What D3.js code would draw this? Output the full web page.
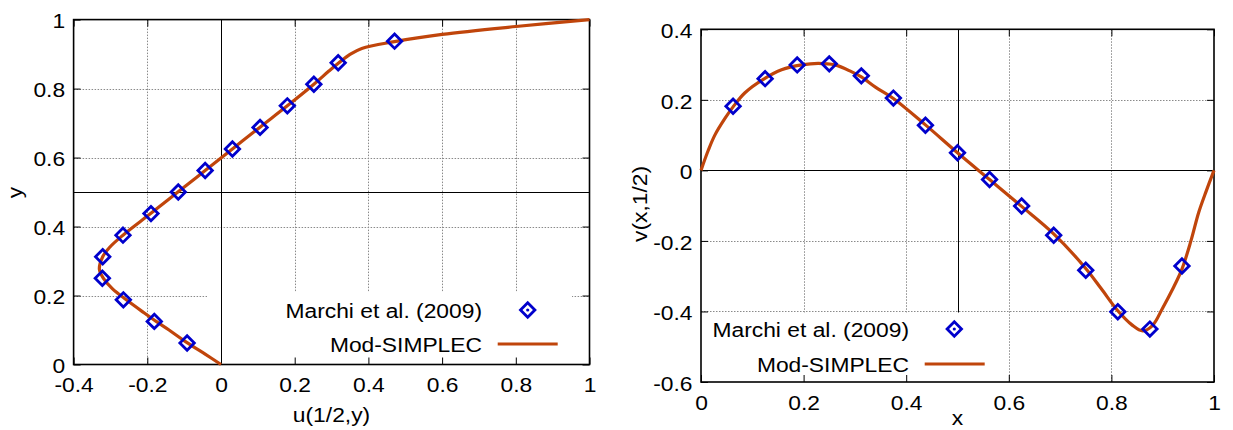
<!DOCTYPE html>
<html>
<head>
<meta charset="utf-8">
<script src="https://cdn.jsdelivr.net/npm/d3@7"></script>
<style>
  html, body { margin: 0; padding: 0; background: #fff; }
  svg { display: block; }
</style>
</head>
<body>
<svg id="chart" width="1233" height="430"></svg>
<script>
// ---- Horizontal velocity u(1/2, y) on the vertical centreline ----
const uRefY = [0.0625, 0.125, 0.1875, 0.25, 0.3125, 0.375, 0.4375, 0.5, 0.5625, 0.625, 0.6875, 0.75, 0.8125, 0.875, 0.9375];
const uRefU = [-0.092, -0.181, -0.265, -0.322, -0.321, -0.266, -0.190, -0.116, -0.043, 0.031, 0.106, 0.180, 0.252, 0.318, 0.471];
const uSimY = [0, 0.03, 0.0625, 0.1, 0.125, 0.15, 0.1875, 0.22, 0.25, 0.276, 0.3125, 0.34, 0.375, 0.4375, 0.5, 0.5625, 0.625, 0.6875, 0.75, 0.8125, 0.85, 0.875, 0.899, 0.9165, 0.936, 0.957, 0.980, 1.0];
const uSimU = [0, -0.043, -0.091, -0.141, -0.176, -0.209, -0.257, -0.295, -0.319, -0.330, -0.321, -0.302, -0.266, -0.191, -0.117, -0.043, 0.031, 0.105, 0.180, 0.252, 0.292, 0.320, 0.350, 0.382, 0.471, 0.600, 0.800, 1.000];

// ---- Vertical velocity v(x, 1/2) on the horizontal centreline ----
const vRefX = [0.0625, 0.125, 0.1875, 0.25, 0.3125, 0.375, 0.4375, 0.5, 0.5625, 0.625, 0.6875, 0.75, 0.8125, 0.875, 0.9375];
const vRefV = [0.182, 0.260, 0.299, 0.302, 0.268, 0.205, 0.128, 0.050, -0.026, -0.101, -0.184, -0.283, -0.401, -0.450, -0.271];
const vSimX = [0, 0.0142, 0.027, 0.047, 0.0625, 0.0857, 0.1246, 0.157, 0.196, 0.2285, 0.261, 0.293, 0.3125, 0.34, 0.375, 0.4375, 0.5, 0.5625, 0.625, 0.6875, 0.75, 0.78, 0.8125, 0.84, 0.861, 0.88, 0.90, 0.92, 0.9375, 0.955, 0.97, 0.985, 1.0];
const vSimV = [0, 0.057, 0.100, 0.148, 0.180, 0.220, 0.261, 0.285, 0.299, 0.3035, 0.299, 0.280, 0.265, 0.236, 0.204, 0.129, 0.050, -0.026, -0.102, -0.180, -0.278, -0.335, -0.398, -0.438, -0.455, -0.440, -0.390, -0.335, -0.280, -0.200, -0.120, -0.058, 0];

// ---- Axis ticks and labels ----
const leftXTicks  = [-0.4, -0.2, 0, 0.2, 0.4, 0.6, 0.8, 1];
const leftXLabels = ["-0.4", "-0.2", "0", "0.2", "0.4", "0.6", "0.8", "1"];
const leftYTicks  = [0, 0.2, 0.4, 0.6, 0.8, 1];
const leftYLabels = ["0", "0.2", "0.4", "0.6", "0.8", "1"];
const rightXTicks  = [0, 0.2, 0.4, 0.6, 0.8, 1];
const rightXLabels = ["0", "0.2", "0.4", "0.6", "0.8", "1"];
const rightYTicks  = [-0.6, -0.4, -0.2, 0, 0.2, 0.4];
const rightYLabels = ["-0.6", "-0.4", "-0.2", "0", "0.2", "0.4"];
const seriesNames = ["Marchi et al. (2009)", "Mod-SIMPLEC"];

const FONT = '"Liberation Sans", Arial, Helvetica, sans-serif';
const FS = 19.5;          // font size
const SX = 1.17;          // widening of text along its writing direction
const REF_COLOR = "#0000cc";
const SIM_COLOR = "#c0450b";
const GRID_COLOR = "#8a8a8a";

const svg = d3.select("#chart");

function panel(o) {
  const g = svg.append("g");
  const x = d3.scaleLinear().domain(o.xDomain).range([o.left, o.right]);
  const y = d3.scaleLinear().domain(o.yDomain).range([o.bottom, o.top]);

  // dotted grid
  const grid = g.append("g")
    .attr("stroke", GRID_COLOR).attr("stroke-width", 1).attr("stroke-dasharray", "1.5,1.5");
  grid.selectAll("line.gx")
    .data(o.xTicks.filter(t => t !== o.xDomain[0] && t !== o.xDomain[1] && t !== o.vLine))
    .join("line")
    .attr("x1", d => Math.round(x(d)) + 0.5).attr("x2", d => Math.round(x(d)) + 0.5)
    .attr("y1", o.top).attr("y2", o.bottom);
  grid.selectAll("line.gy")
    .data(o.yTicks.filter(t => t !== o.yDomain[0] && t !== o.yDomain[1] && t !== o.hLine))
    .join("line")
    .attr("y1", d => Math.round(y(d)) + 0.5).attr("y2", d => Math.round(y(d)) + 0.5)
    .attr("x1", o.left).attr("x2", o.right);

  // solid centre lines
  const lineV = () => g.append("line")
    .attr("x1", Math.round(x(o.vLine)) + 0.5).attr("x2", Math.round(x(o.vLine)) + 0.5)
    .attr("y1", o.top).attr("y2", o.bottom).attr("stroke", "#000").attr("stroke-width", 1);
  const lineH = () => g.append("line")
    .attr("y1", Math.round(y(o.hLine)) + 0.5).attr("y2", Math.round(y(o.hLine)) + 0.5)
    .attr("x1", o.left).attr("x2", o.right).attr("stroke", "#000").attr("stroke-width", 1);

  // the zero line is drawn above the key background, the other one below it
  if (o.vLine === 0) lineH(); else lineV();

  // key background
  g.append("rect")
    .attr("x", o.key.x0).attr("y", o.key.y0)
    .attr("width", o.key.x1 - o.key.x0).attr("height", o.key.y1 - o.key.y0)
    .attr("fill", "#fff");

  if (o.vLine === 0) lineV(); else lineH();

  // axes with inward ticks on all four sides
  const fmt = (ticks, labels) => d => labels[ticks.indexOf(d)];
  const styleAxis = sel => {
    sel.attr("font-family", FONT).attr("font-size", FS);
    sel.select(".domain").remove();
    sel.selectAll(".tick line").attr("stroke", "#000");
  };

  const bottom = g.append("g").attr("transform", `translate(0,${o.bottom})`)
    .call(d3.axisBottom(x).tickValues(o.xTicks).tickFormat(fmt(o.xTicks, o.xLabels))
      .tickSizeInner(-7).tickSizeOuter(0).tickPadding(0));
  styleAxis(bottom);
  bottom.selectAll("text").attr("y", 28).attr("dy", null)
    .attr("transform", `scale(${SX},1)`).attr("fill", "#000");

  const left = g.append("g").attr("transform", `translate(${o.left},0)`)
    .call(d3.axisLeft(y).tickValues(o.yTicks).tickFormat(fmt(o.yTicks, o.yLabels))
      .tickSizeInner(-7).tickSizeOuter(0).tickPadding(0));
  styleAxis(left);
  left.selectAll("text").attr("x", 0).attr("dy", "0.43em")
    .attr("transform", `translate(-8.5,0) scale(${SX},1)`).attr("fill", "#000");

  const top = g.append("g").attr("transform", `translate(0,${o.top})`)
    .call(d3.axisTop(x).tickValues(o.xTicks).tickFormat("").tickSizeInner(-7).tickSizeOuter(0));
  styleAxis(top);
  const right = g.append("g").attr("transform", `translate(${o.right},0)`)
    .call(d3.axisRight(y).tickValues(o.yTicks).tickFormat("").tickSizeInner(-7).tickSizeOuter(0));
  styleAxis(right);

  // border
  g.append("rect")
    .attr("x", o.left).attr("y", o.top)
    .attr("width", o.right - o.left).attr("height", o.bottom - o.top)
    .attr("fill", "none").attr("stroke", "#000").attr("stroke-width", 1.6);

  // axis titles
  g.append("text")
    .attr("transform", `translate(${o.xTitle.x},${o.xTitle.y}) scale(${SX},1)`)
    .attr("text-anchor", "middle").attr("font-family", FONT).attr("font-size", FS)
    .text(o.xTitle.text);
  g.append("text")
    .attr("transform", `translate(${o.yTitle.x},${o.yTitle.y}) rotate(-90) scale(${SX},1)`)
    .attr("text-anchor", "middle").attr("font-family", FONT).attr("font-size", FS)
    .text(o.yTitle.text);

  // simulated profile
  const line = d3.line().x(d => x(d[0])).y(d => y(d[1])).curve(d3.curveCatmullRom.alpha(0.5));
  g.append("path").datum(o.sim)
    .attr("d", line).attr("fill", "none")
    .attr("stroke", SIM_COLOR).attr("stroke-width", 3.2).attr("stroke-linejoin", "round");

  // reference points (open diamonds)
  const diamond = d3.symbol(d3.symbolSquare, 104);
  g.selectAll("path.ref").data(o.ref).join("path")
    .attr("class", "ref")
    .attr("d", diamond)
    .attr("transform", d => `translate(${x(d[0])},${y(d[1])}) rotate(45)`)
    .attr("fill", "none").attr("stroke", REF_COLOR).attr("stroke-width", 2.8);

  // key entries
  const k = o.key;
  const keyText = (txt, cy) => g.append("text")
    .attr("transform", `translate(${k.textX},${cy + 7.5}) scale(${SX},1)`)
    .attr("text-anchor", "end").attr("font-family", FONT).attr("font-size", FS)
    .text(txt);
  keyText(seriesNames[0], k.row1);
  keyText(seriesNames[1], k.row2);
  g.append("path").attr("d", diamond)
    .attr("transform", `translate(${k.markX},${k.row1}) rotate(45)`)
    .attr("fill", "none").attr("stroke", REF_COLOR).attr("stroke-width", 2.8);
  g.append("circle").attr("cx", k.markX).attr("cy", k.row1).attr("r", 1.6).attr("fill", REF_COLOR);
  g.append("line")
    .attr("x1", k.lineX0).attr("x2", k.lineX1).attr("y1", k.row2).attr("y2", k.row2)
    .attr("stroke", SIM_COLOR).attr("stroke-width", 3.2);
}

panel({
  xDomain: [-0.4, 1], yDomain: [0, 1],
  left: 73.6, right: 589.5, top: 19.6, bottom: 364.5,
  xTicks: leftXTicks, xLabels: leftXLabels, yTicks: leftYTicks, yLabels: leftYLabels,
  vLine: 0, hLine: 0.5,
  key: { x0: 207, x1: 572, y0: 292, y1: 364, textX: 482, row1: 310, row2: 344, markX: 527.7, lineX0: 497.7, lineX1: 557.7 },
  xTitle: { text: "u(1/2,y)", x: 331.5, y: 422 },
  yTitle: { text: "y", x: 22, y: 192.5 },
  sim: d3.zip(uSimU, uSimY),
  ref: d3.zip(uRefU, uRefY)
});

panel({
  xDomain: [0, 1], yDomain: [-0.6, 0.4],
  left: 701, right: 1214, top: 29.3, bottom: 382,
  xTicks: rightXTicks, xLabels: rightXLabels, yTicks: rightYTicks, yLabels: rightYLabels,
  vLine: 0.5, hLine: 0,
  key: { x0: 701, x1: 995, y0: 312.5, y1: 382, textX: 909, row1: 329, row2: 364, markX: 954.3, lineX0: 924.7, lineX1: 984.7 },
  xTitle: { text: "x", x: 957.5, y: 425 },
  yTitle: { text: "v(x,1/2)", x: 647, y: 204 },
  sim: d3.zip(vSimX, vSimV),
  ref: d3.zip(vRefX, vRefV)
});
</script>
</body>
</html>
